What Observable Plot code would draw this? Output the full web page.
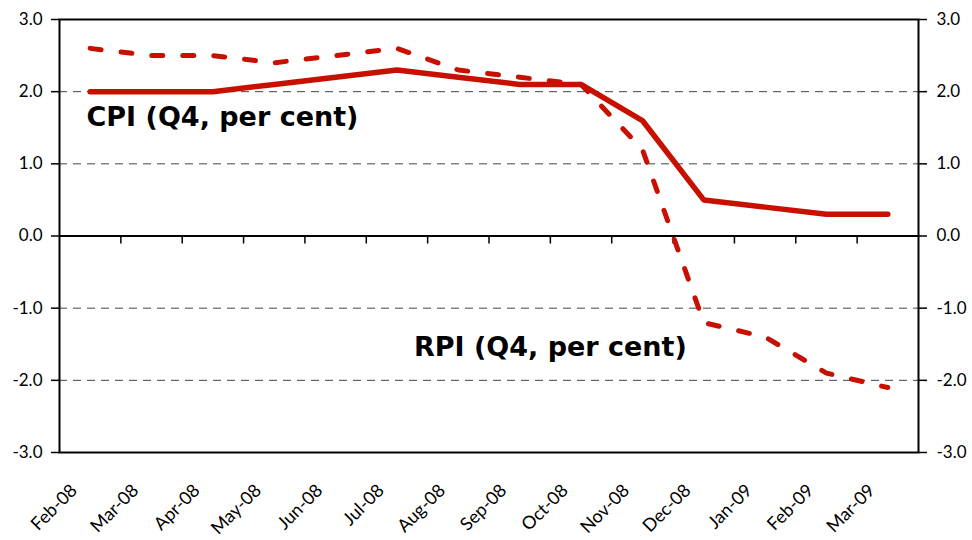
<!DOCTYPE html>
<html>
<head>
<meta charset="utf-8">
<script src="https://cdn.jsdelivr.net/npm/d3@7"></script>
<script src="https://cdn.jsdelivr.net/npm/@observablehq/plot@0.6"></script>
<style>
  html, body { margin: 0; padding: 0; background: #fff; }
  #chart svg { display: block; }
</style>
</head>
<body>
<div id="chart"></div>
<script>
// Months (categories)
const months = ["Feb-08","Mar-08","Apr-08","May-08","Jun-08","Jul-08","Aug-08","Sep-08","Oct-08","Nov-08","Dec-08","Jan-09","Feb-09","Mar-09"];
// CPI (Q4, per cent) – solid line
const cpi = [2.0, 2.0, 2.0, 2.1, 2.2, 2.3, 2.2, 2.1, 2.1, 1.6, 0.5, 0.4, 0.3, 0.3];
// RPI (Q4, per cent) – dashed line
const rpi = [2.6, 2.5, 2.5, 2.4, 2.5, 2.6, 2.3, 2.2, 2.1, 1.2, -1.2, -1.4, -1.9, -2.1];
// Y axis ticks
const yTicks = [-3, -2, -1, 0, 1, 2, 3];
const gridTicks = [-2, -1, 1, 2];
// Series labels (placed in data coordinates)
const cpiLabel = [{text: "CPI (Q4, per cent)", pos: -0.06, value: 1.65}];
const rpiLabel = [{text: "RPI (Q4, per cent)", pos: 7.5, value: -1.55}];

const red = "#c81000";
const font = "Lato, 'Open Sans', sans-serif";
const labelFont = "'DejaVu Sans', Lato, sans-serif";

const idx = months.map((_, i) => i);
const boundaries = months.slice(1).map((_, i) => i + 0.5);
const cpiData = months.map((m, i) => ({i, v: cpi[i]}));
const rpiData = months.map((m, i) => ({i, v: rpi[i]}));

const chart = Plot.plot({
  width: 972,
  height: 540,
  marginLeft: 59,
  marginRight: 54,
  marginTop: 19,
  marginBottom: 88,
  style: {fontFamily: font, background: "#fff"},
  x: {type: "linear", domain: [-0.5, months.length - 0.5]},
  y: {domain: [-3, 3]},
  marks: [
    Plot.gridY(gridTicks, {stroke: "#444", strokeOpacity: 1, strokeWidth: 1, strokeDasharray: "8,6"}),
    Plot.ruleY([0], {stroke: "#000", strokeWidth: 2}),
    Plot.ruleX(boundaries, {x: d => d, y1: 0, y2: 0, insetBottom: -8, stroke: "#000", strokeWidth: 1.5}),
    Plot.frame({stroke: "#000", strokeWidth: 2}),
    Plot.axisY(yTicks, {anchor: "left", tickFormat: d => d.toFixed(1), tickSize: 8, tickPadding: 9, fontSize: 17, label: null, stroke: "#000", strokeWidth: 1.5, color: "#000"}),
    Plot.axisY(yTicks, {anchor: "right", tickFormat: d => d.toFixed(1), tickSize: 8, tickPadding: 10, fontSize: 17, label: null, stroke: "#000", strokeWidth: 1.5, color: "#000"}),
    Plot.axisX(idx, {anchor: "bottom", tickFormat: i => months[i], tickSize: 0, tickPadding: 35, tickRotate: -45, dx: -16, fontSize: 18, label: null, color: "#000"}),
    Plot.line(rpiData, {x: "i", y: "v", stroke: red, strokeWidth: 5, strokeDasharray: "11,20", strokeLinejoin: "miter"}),
    Plot.line(cpiData, {x: "i", y: "v", stroke: red, strokeWidth: 5.5, strokeLinecap: "round", strokeLinejoin: "miter"}),
    Plot.text(cpiLabel, {x: "pos", y: "value", text: "text", textAnchor: "start", fontSize: 27, fontWeight: "bold", fontFamily: labelFont, fill: "#000"}),
    Plot.text(rpiLabel, {x: "pos", y: "value", text: "text", textAnchor: "middle", fontSize: 27, fontWeight: "bold", fontFamily: labelFont, fill: "#000"})
  ]
});
document.getElementById("chart").appendChild(chart);
</script>
</body>
</html>
